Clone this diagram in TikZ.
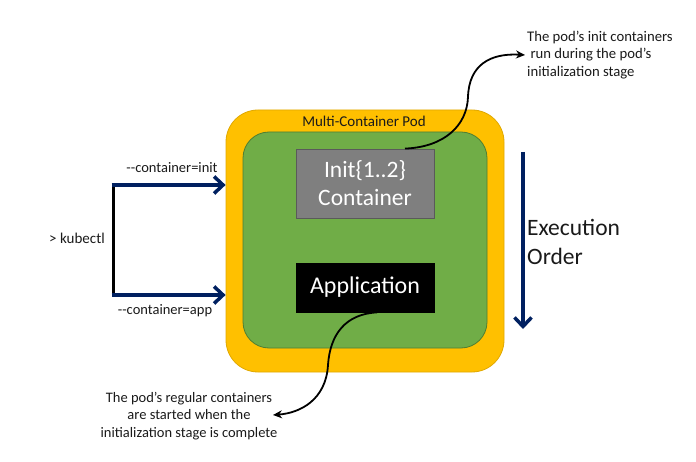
\documentclass[tikz,border=0pt]{standalone}
\usepackage{fontspec}
\setmainfont{Carlito}
\usetikzlibrary{arrows.meta}
\definecolor{podyellow}{HTML}{FFC000}
\definecolor{podyellowedge}{HTML}{E0A800}
\definecolor{podgreen}{HTML}{70AD47}
\definecolor{podgreenedge}{HTML}{507E32}
\definecolor{initgray}{HTML}{7F7F7F}
\definecolor{initgrayedge}{HTML}{5A5A5A}
\definecolor{navy}{HTML}{002060}
\definecolor{txt}{HTML}{1A1A1A}
\tikzset{
  box/.style={draw, minimum width=138pt, inner sep=0pt, text=white, font=\fontsize{23.5}{28}\selectfont, align=center, line width=0.8pt},
  cmdarrow/.style={draw=navy, line width=3.5pt, -{Straight Barb[length=9pt,width=17pt]}},
  note/.style={text=txt, font=\fontsize{14.5}{17.5}\selectfont, inner sep=0pt},
  callout/.style={draw=black, line width=1.8pt, -{Stealth[length=9pt,width=8pt]}},
}
\begin{document}
\begin{tikzpicture}[x=1pt,y=-1pt]
\useasboundingbox (0,0) rectangle (696,462);
% pod
\node (pod) [draw=podyellowedge, fill=podyellow, rounded corners=32pt, minimum width=278pt, minimum height=262pt, line width=0.8pt] at (365,241) {};
\node (inner) [draw=podgreenedge, fill=podgreen, rounded corners=26pt, minimum width=244pt, minimum height=216pt, line width=0.8pt] at (365,240) {};
\node (podlbl) [note, font=\fontsize{15}{17}\selectfont] at (364,121) {Multi-Container Pod};
\node (init) [box, fill=initgray, draw=initgrayedge, minimum height=69pt] at (365,183.5) {Init\{1..2\}\\Container};
\node (app) [box, fill=black, draw=black, minimum height=49pt, font=\fontsize{24}{28}\selectfont] at (365,287.5) {Application};
% kubectl
\coordinate (k1) at (113,185);
\coordinate (k2) at (113,295);
\draw [black, line width=3pt] (k1) -- (k2);
\draw [cmdarrow] ([xshift=-1.5pt]k1) -- (k1 -| pod.west);
\draw [cmdarrow] ([xshift=-1.5pt]k2) -- (k2 -| pod.west);
\node (kub) [note, font=\fontsize{15}{17}\selectfont] at (77,238) {> kubectl};
\node (cinit) [note] at (172,168) {-{}-container=init};
\node (capp) [note] at (165,311) {-{}-container=app};
% execution order
\coordinate (e1) at (523,152);
\coordinate (e2) at (523,329);
\draw [cmdarrow] (e1) -- (e2);
\node (exec) [anchor=west, text=txt, font=\fontsize{23.5}{29}\selectfont, align=left, inner sep=0pt] at (527,242) {Execution\\Order};
% callouts
\node (inittxt) [note, anchor=west, align=left, font=\fontsize{14.7}{17.5}\selectfont] at (527,55) {The pod’s init containers\\\ run during the pod’s\\initialization stage};
\node (apptxt) [note, align=center] at (189,416) {The pod’s regular containers\\are started when the\\initialization stage is complete};
\coordinate (c1) at ([xshift=40pt]init.north);
\coordinate (c2) at ([xshift=-2pt]inittxt.west);
\draw [callout] (c1) .. controls (445,147) and (467,125) .. (468,97) .. controls (469,65) and (490,53) .. (c2);
\coordinate (d1) at ([xshift=12pt]app.south);
\draw [callout] (d1) .. controls (345,314) and (330,335) .. (328,365) .. controls (326,400) and (300,413) .. (273,415);
\end{tikzpicture}
\end{document}
